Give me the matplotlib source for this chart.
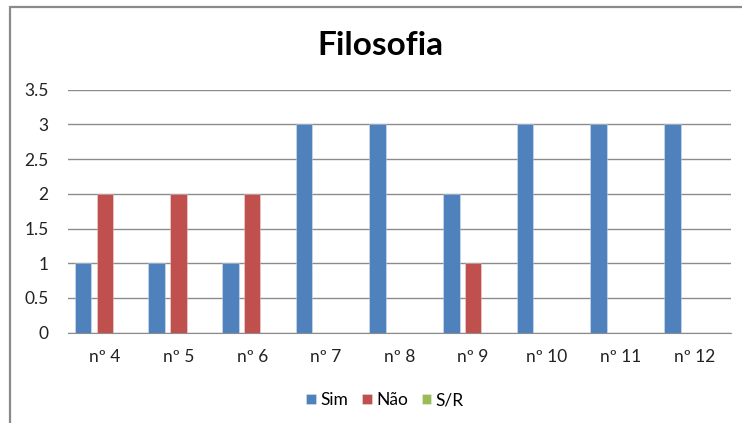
import matplotlib.pyplot as plt
import numpy as np
from matplotlib.patches import Rectangle

categories = ['nº 4', 'nº 5', 'nº 6', 'nº 7', 'nº 8', 'nº 9', 'nº 10', 'nº 11', 'nº 12']
sim = [1, 1, 1, 3, 3, 2, 3, 3, 3]
nao = [2, 2, 2, 0, 0, 1, 0, 0, 0]
sr = [0, 0, 0, 0, 0, 0, 0, 0, 0]
series_names = ['Sim', 'Não', 'S/R']
colors = ['#4F81BD', '#C0504D', '#9BBB59']
yticks = [0, 0.5, 1, 1.5, 2, 2.5, 3, 3.5]

plt.rcParams['font.family'] = ['Lato', 'DejaVu Sans']

W, H = 742, 423
fig = plt.figure(figsize=(W / 100, H / 100), dpi=100)
ax = fig.add_axes([68 / W, 1 - 332.7 / H, (731 - 68) / W, (332.7 - 89.8) / H])

x = np.arange(len(categories))
step = 0.295
width = 0.225
for k, (vals, name, c) in enumerate(zip([sim, nao, sr], series_names, colors)):
    ax.bar(x + (k - 1) * step, vals, width=width, color=c, label=name,
           edgecolor=(1, 1, 1, 0.35), linewidth=0.6, zorder=3)

ax.set_xlim(-0.5, len(categories) - 0.5)
ax.set_ylim(0, 3.5)
ax.set_yticks(yticks)
ax.set_yticklabels([f'{v:g}' for v in yticks])
ax.set_xticks(x)
ax.set_xticklabels(categories)
ax.yaxis.grid(True, color='#8c8c8c', linewidth=1.0, zorder=0)
ax.set_axisbelow(True)
for s in ['left', 'right', 'top']:
    ax.spines[s].set_visible(False)
ax.spines['bottom'].set_color('#8c8c8c')
ax.tick_params(axis='both', length=0, labelsize=12.5, colors='#222222')
ax.tick_params(axis='x', pad=12)
ax.tick_params(axis='y', pad=14)

# chart border (partly outside the canvas on the right and bottom)
fig.patches.append(Rectangle((9.5 / W, -0.2), 1.2, 1 - 7.5 / H + 0.2,
                             transform=fig.transFigure, fill=False,
                             edgecolor='#8a8a8a', linewidth=1.6))

fig.text(380 / W, 1 - 55 / H, 'Filosofia', ha='center', va='baseline',
         fontsize=24, fontweight='bold')

fig.legend(loc='center', bbox_to_anchor=(385 / W, 1 - 400 / H), ncol=3,
           frameon=False, fontsize=12.5, handlelength=0.55, handleheight=0.55,
           handletextpad=0.25, columnspacing=0.8)

fig.savefig('out.png', dpi=100)
